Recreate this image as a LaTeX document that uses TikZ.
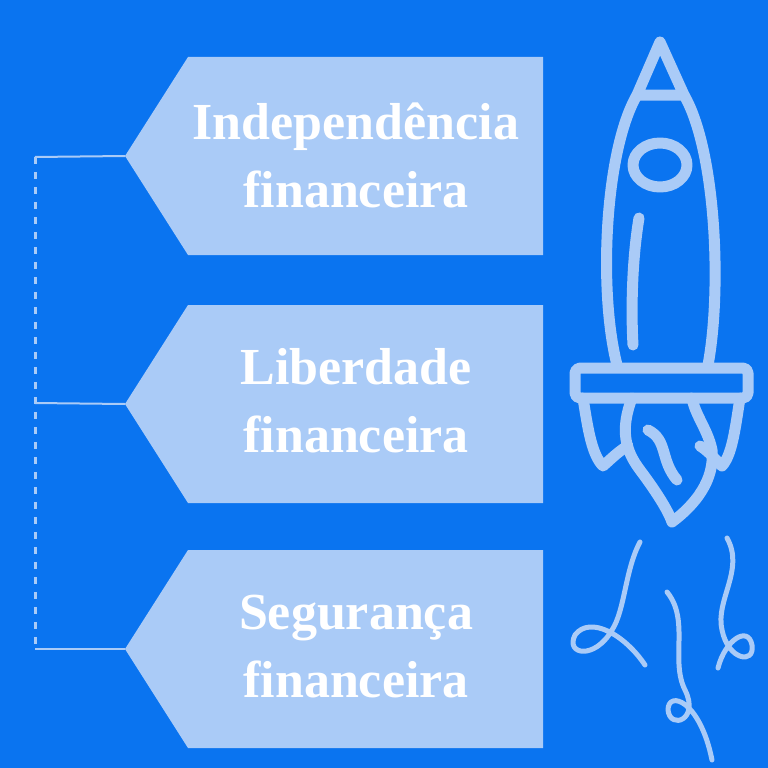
\documentclass[tikz,border=0pt]{standalone}
\usepackage{fontspec}
\setmainfont{Liberation Serif}
\definecolor{bgblue}{RGB}{10,116,240}
\definecolor{paleblue}{RGB}{170,203,247}
\tikzset{
  tag/.style={fill=paleblue},
  taglabel/.style={text=white,font=\fontsize{52}{68}\selectfont\bfseries,align=center},
  link/.style={draw=paleblue,line width=2pt},
  rocket/.style={draw=paleblue,line width=11pt,line cap=round,line join=round}
}
\begin{document}
\begin{tikzpicture}[x=1pt,y=-1pt]
\fill[bgblue] (0,0) rectangle (768,768);
\useasboundingbox (0,0) rectangle (768,768);
% tags
\foreach \t/\name in {57/indep,305/liber,550/segur}{
  \fill[tag] (188,\t) -- (543,\t) -- (543,\t+198) -- (188,\t+198) -- (125,\t+99) -- cycle;
  \coordinate (\name) at (125,\t+99);
}
\node[taglabel] (tindep) at (356,155) {Independência\\financeira};
\node[taglabel] (tliber) at (356,401) {Liberdade\\financeira};
\node[taglabel] (tsegur) at (356,647) {Segurança\\financeira};
% links
\coordinate (a) at (35,157);
\coordinate (b) at (35,403);
\coordinate (c) at (35,649);
\draw[link] (a) -- (indep);
\draw[link] (b) -- (liber);
\draw[link] (c) -- (segur);
\draw[link,line width=3pt,dash pattern=on 7pt off 8pt] (a) -- (c);
% rocket
\draw[rocket] (660,42) -- (637,95) -- (684,95) -- cycle;
\draw[rocket] (637,95) .. controls (605,150) and (598,290) .. (617,365);
\draw[rocket] (684,95) .. controls (716,150) and (722,290) .. (708,365);
\draw[rocket] (660,165) ellipse (27 and 22);
\draw[rocket] (639,218) .. controls (632,260) and (631,310) .. (633,345);
\draw[rocket,rounded corners=5pt] (575,368) rectangle (748,398);
\draw[rocket] (583,398) .. controls (588,430) and (592,455) .. (603,466)
  .. controls (612,458) and (620,450) .. (628,446);
\draw[rocket] (740,398) .. controls (735,430) and (732,455) .. (722,466)
  .. controls (714,458) and (707,450) .. (700,446);
\draw[rocket] (632,398) .. controls (620,430) and (625,450) .. (640,470)
  .. controls (655,490) and (668,510) .. (672,522)
  .. controls (695,505) and (715,480) .. (712,450)
  .. controls (708,430) and (695,415) .. (692,398);
\draw[rocket] (648,430) .. controls (668,440) and (660,460) .. (677,480);
% trails
\draw[rocket,line width=5pt] (640,542) .. controls (625,570) and (625,610) .. (612,630)
  .. controls (595,660) and (565,655) .. (575,635)
  .. controls (590,615) and (625,635) .. (645,665);
\draw[rocket,line width=5pt] (667,592) .. controls (690,620) and (670,660) .. (685,690)
  .. controls (700,720) and (670,730) .. (668,710)
  .. controls (668,690) and (700,700) .. (712,760);
\draw[rocket,line width=5pt] (727,538) .. controls (745,570) and (715,600) .. (722,630)
  .. controls (728,660) and (755,665) .. (752,645)
  .. controls (748,625) and (725,640) .. (718,668);
\end{tikzpicture}
\end{document}
